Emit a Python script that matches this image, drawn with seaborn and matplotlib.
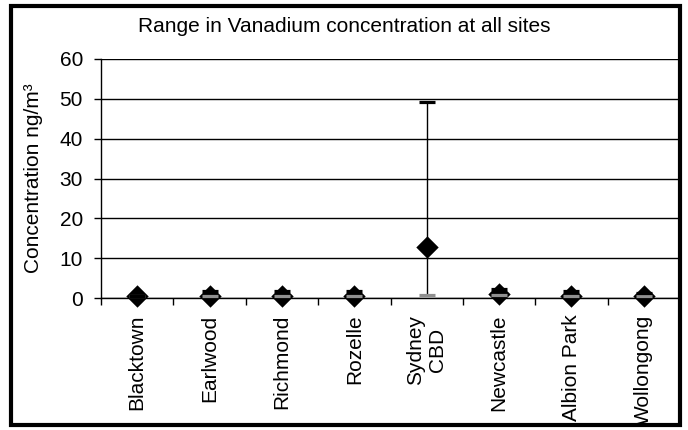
import pandas as pd
import seaborn as sns
import matplotlib.pyplot as plt

sites = ["Blacktown", "Earlwood", "Richmond", "Rozelle", "Sydney\nCBD",
         "Newcastle", "Albion Park", "Wollongong"]
v_max = [0.6, 1.8, 1.7, 1.8, 49.3, 2.2, 1.8, 1.2]
v_min = [0.5, 0.4, 0.4, 0.4, 0.8, 0.8, 0.4, 0.5]
v_mean = [0.5, 0.6, 0.6, 0.6, 12.8, 1.0, 0.6, 0.6]
y_ticks = [0, 10, 20, 30, 40, 50, 60]

df = pd.DataFrame({"site": sites, "max": v_max, "min": v_min, "mean": v_mean})

sns.set_style("white")
plt.rcParams["font.family"] = ["Liberation Sans", "DejaVu Sans"]
plt.rcParams["text.color"] = "black"
plt.rcParams["axes.labelcolor"] = "black"
plt.rcParams["xtick.color"] = "black"
plt.rcParams["ytick.color"] = "black"

fig = plt.figure(figsize=(6.88, 4.3), dpi=100)
ax = fig.add_axes([101 / 688, 1 - 298 / 430, 579 / 688, 239 / 430])

# high-low lines, then mean diamonds, then the low / high dashes
ax.vlines(range(len(df)), df["min"], df["max"], color="black", lw=1, zorder=2)
sns.scatterplot(data=df, x="site", y="mean", marker="D", color="black",
                s=130, edgecolor="black", linewidth=0, ax=ax, zorder=3,
                clip_on=False)
sns.scatterplot(data=df, x="site", y="min", marker="_", color="#909090",
                s=140, linewidth=2.3, ax=ax, zorder=4, clip_on=False)
sns.scatterplot(data=df, x="site", y="max", marker="_", color="black",
                s=120, linewidth=2.3, ax=ax, zorder=5, clip_on=False)

ax.set_xlim(-0.5, len(df) - 0.5)
ax.set_ylim(0, 60)
ax.set_yticks(y_ticks)
ax.yaxis.grid(True, color="black", lw=1)
ax.set_axisbelow(True)

ax.set_xticks([i + 0.5 for i in range(-1, len(df))], minor=False)
ax.set_xticklabels([])
ax.set_xticks(range(len(df)), minor=True)
ax.set_xticklabels(sites, minor=True, rotation=90, fontsize=15, va="top",
                   ha="center", multialignment="center")
ax.tick_params(axis="x", which="major", direction="out", length=5,
               width=1, color="black", bottom=True)
ax.tick_params(axis="x", which="minor", length=0, pad=12)
ax.tick_params(axis="y", direction="out", length=5, width=1, color="black",
               left=True, labelsize=15, pad=8)

for side in ["top", "right"]:
    ax.spines[side].set_visible(False)
for side in ["left", "bottom"]:
    ax.spines[side].set_color("black")
    ax.spines[side].set_linewidth(1)

ax.set_xlabel("")
ax.set_ylabel("Concentration ng/m³", fontsize=15, labelpad=12)

fig.text(0.5, 1 - 27 / 430, "Range in Vanadium concentration at all sites",
         ha="center", va="center", fontsize=15)

# outer chart border
border = plt.Rectangle((11 / 688, 5 / 430), 669 / 688, 419 / 430,
                       transform=fig.transFigure, fill=False,
                       edgecolor="black", lw=3, zorder=10)
fig.patches.append(border)

fig.savefig("out.png", dpi=100)
